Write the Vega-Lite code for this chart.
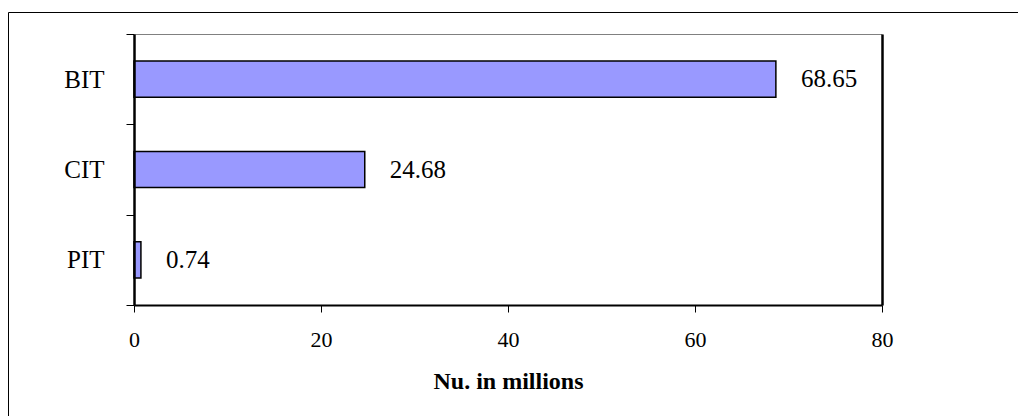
{
  "$schema": "https://vega.github.io/schema/vega-lite/v6.json",
  "autosize": "none",
  "padding": {"left": 8, "top": 12, "right": 0, "bottom": 0},
  "width": 1012,
  "height": 410,
  "background": "white",
  "config": {
    "view": {"stroke": "black", "strokeWidth": 1},
    "font": "Liberation Serif",
    "axis": {"grid": false}
  },
  "data": {
    "values": [
      {"type": "BIT", "value": 68.65},
      {"type": "CIT", "value": 24.68},
      {"type": "PIT", "value": 0.74}
    ]
  },
  "layer": [
    {
      "mark": {"type": "bar", "fill": "#9999FF", "stroke": "black", "strokeWidth": 1.5, "height": {"band": 0.4}},
      "encoding": {
        "y": {
          "field": "type", "type": "nominal", "sort": ["BIT", "CIT", "PIT"],
          "scale": {"range": [22, 293], "paddingInner": 0, "paddingOuter": 0},
          "axis": {
            "orient": "left", "offset": -126, "title": null, "zindex": 1,
            "domainColor": "black", "domainWidth": 2.5,
            "tickBand": "extent", "tickColor": "black", "tickSize": 8, "tickWidth": 1,
            "labelFont": "Liberation Serif", "labelFontSize": 25, "labelColor": "black", "labelPadding": 22
          }
        },
        "x": {
          "field": "value", "type": "quantitative",
          "scale": {"domain": [0, 80], "range": [126, 874], "nice": false},
          "axis": {
            "orient": "bottom", "offset": -117, "values": [0, 20, 40, 60, 80], "zindex": 1,
            "domainColor": "black", "domainWidth": 2,
            "tickColor": "black", "tickSize": 7, "tickWidth": 1,
            "labelFont": "Liberation Serif", "labelFontSize": 22, "labelColor": "black", "labelPadding": 17,
            "labelFlush": false, "labelOverlap": false, "labelBound": false,
            "title": "Nu. in millions", "titleFont": "Liberation Serif", "titleFontSize": 24,
            "titleFontWeight": "bold", "titleColor": "black", "titlePadding": 19
          }
        }
      }
    },
    {
      "mark": {"type": "text", "align": "left", "baseline": "middle", "dx": 25, "font": "Liberation Serif", "fontSize": 25, "color": "black"},
      "encoding": {
        "text": {"field": "value", "type": "quantitative", "format": ".2f"},
        "y": {
          "field": "type", "type": "nominal", "sort": ["BIT", "CIT", "PIT"],
          "scale": {"range": [22, 293], "paddingInner": 0, "paddingOuter": 0},
          "axis": {"orient": "right", "offset": -138, "title": null, "ticks": false, "labels": false, "domainColor": "black", "domainWidth": 2.5, "zindex": 1}
        },
        "x": {
          "field": "value", "type": "quantitative",
          "scale": {"domain": [0, 80], "range": [126, 874], "nice": false},
          "axis": {"orient": "top", "offset": -22, "title": null, "ticks": false, "labels": false, "values": [0], "domainColor": "#808080", "domainWidth": 1}
        }
      }
    }
  ],
  "resolve": {"axis": {"x": "independent", "y": "independent"}}
}
